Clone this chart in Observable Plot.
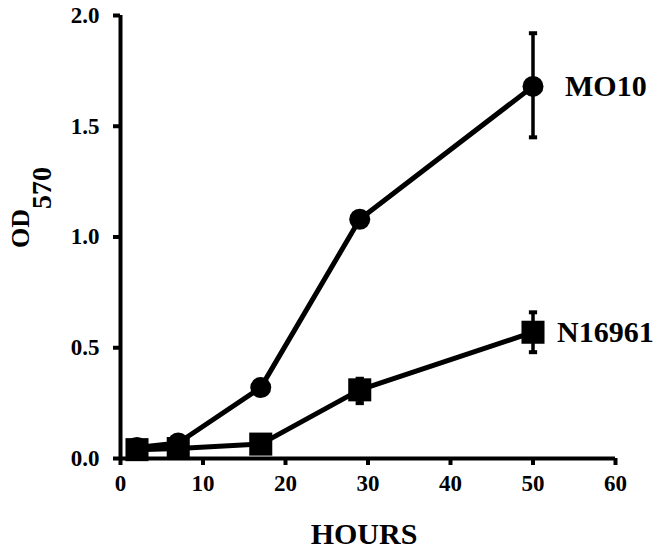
<!DOCTYPE html>
<html>
<head>
<meta charset="utf-8">
<script src="https://cdn.jsdelivr.net/npm/d3@7"></script>
<script src="https://cdn.jsdelivr.net/npm/@observablehq/plot@0.6"></script>
<style>
  html, body { margin: 0; padding: 0; background: #fff; }
  #chart g[aria-label$='tick label'] text { font-size: 23px !important; }
</style>
</head>
<body>
<div id="chart"></div>
<script>
const hours = [2, 7, 17, 29, 50];
const mo10 = [0.05, 0.07, 0.32, 1.08, 1.68];
const n16961 = [0.04, 0.045, 0.065, 0.31, 0.57];
const errHours = [50, 29, 50];
const errSeries = ["MO10", "N16961", "N16961"];
const errLow = [1.45, 0.25, 0.48];
const errHigh = [1.92, 0.36, 0.66];
const xTicks = [0, 10, 20, 30, 40, 50, 60];
const yTicks = [0, 0.5, 1.0, 1.5, 2.0];
const seriesNames = ["MO10", "N16961"];

const moData = hours.map((h, i) => ({hours: h, od: mo10[i]}));
const nData = hours.map((h, i) => ({hours: h, od: n16961[i]}));
const errData = errHours.map((h, i) => ({hours: h, series: errSeries[i], lo: errLow[i], hi: errHigh[i]}));
const labelData = [
  {hours: hours[4], od: mo10[4], name: seriesNames[0], dx: 32},
  {hours: hours[4], od: n16961[4], name: seriesNames[1], dx: 24}
];
const capHalf = 0.5;

const chart = Plot.plot({
  width: 664,
  height: 552,
  marginLeft: 120,
  marginRight: 49,
  marginTop: 15,
  marginBottom: 94,
  style: {fontFamily: "'Liberation Serif', 'DejaVu Serif', serif", fontWeight: "bold", fontSize: "22px", color: "#000", background: "#fff"},
  x: {domain: [0, 60]},
  y: {domain: [0, 2]},
  marks: [
    Plot.axisX({ticks: xTicks, tickSize: 7, tickPadding: 9, fontSize: 23, strokeWidth: 4, label: null, tickFormat: d3.format("d")}),
    Plot.axisY({ticks: yTicks, tickSize: 7, tickPadding: 14, fontSize: 23, strokeWidth: 4, label: null, tickFormat: d3.format(".1f")}),
    Plot.ruleX([0], {y1: 0, y2: 2, strokeWidth: 4, stroke: "#000"}),
    Plot.ruleY([0], {x1: 0, x2: 60, strokeWidth: 4, stroke: "#000"}),
    // error bars
    Plot.ruleX(errData, {x: "hours", y1: "lo", y2: "hi", strokeWidth: 3.5, stroke: "#000"}),
    Plot.link(errData, {x1: d => d.hours - capHalf, x2: d => d.hours + capHalf, y1: "lo", y2: "lo", strokeWidth: 4, stroke: "#000"}),
    Plot.link(errData, {x1: d => d.hours - capHalf, x2: d => d.hours + capHalf, y1: "hi", y2: "hi", strokeWidth: 4, stroke: "#000"}),
    // MO10
    Plot.line(moData, {x: "hours", y: "od", strokeWidth: 5, stroke: "#000"}),
    Plot.dot(moData, {x: "hours", y: "od", r: 10.5, fill: "#000", symbol: "circle"}),
    // N16961
    Plot.line(nData, {x: "hours", y: "od", strokeWidth: 5, stroke: "#000"}),
    Plot.dot(nData, {x: "hours", y: "od", r: 13, fill: "#000", symbol: "square"}),
    // series labels
    Plot.text(labelData, {x: "hours", y: "od", text: "name", textAnchor: "start", fontSize: 30, fontWeight: "bold", fill: "#000"}),
    // x label
    Plot.text(["HOURS"], {frameAnchor: "bottom", dx: -4, dy: 85, lineAnchor: "bottom", fontSize: 30, fontWeight: "bold", fill: "#000"})
  ]
});

document.getElementById("chart").appendChild(chart);

const svg = d3.select(chart);

// apply per-label dx offsets
svg.selectAll("text").filter(function() { return seriesNames.includes(this.textContent); })
  .each(function() {
    const name = this.textContent;
    const lab = labelData.find(d => d.name === name);
    const tr = this.getAttribute("transform") || "";
    this.setAttribute("transform", tr + ` translate(${lab.dx},0)`);
  });

// y label with subscript
const yl = svg.append("text")
  .attr("transform", "translate(29,248) rotate(-90)")
  .attr("text-anchor", "start")
  .attr("font-family", "'Liberation Serif', 'DejaVu Serif', serif")
  .attr("font-weight", "bold")
  .attr("fill", "#000");
yl.append("tspan").attr("font-size", 26).text("OD");
yl.append("tspan").attr("font-size", 28).attr("dy", 22).text("570");
</script>
</body>
</html>
